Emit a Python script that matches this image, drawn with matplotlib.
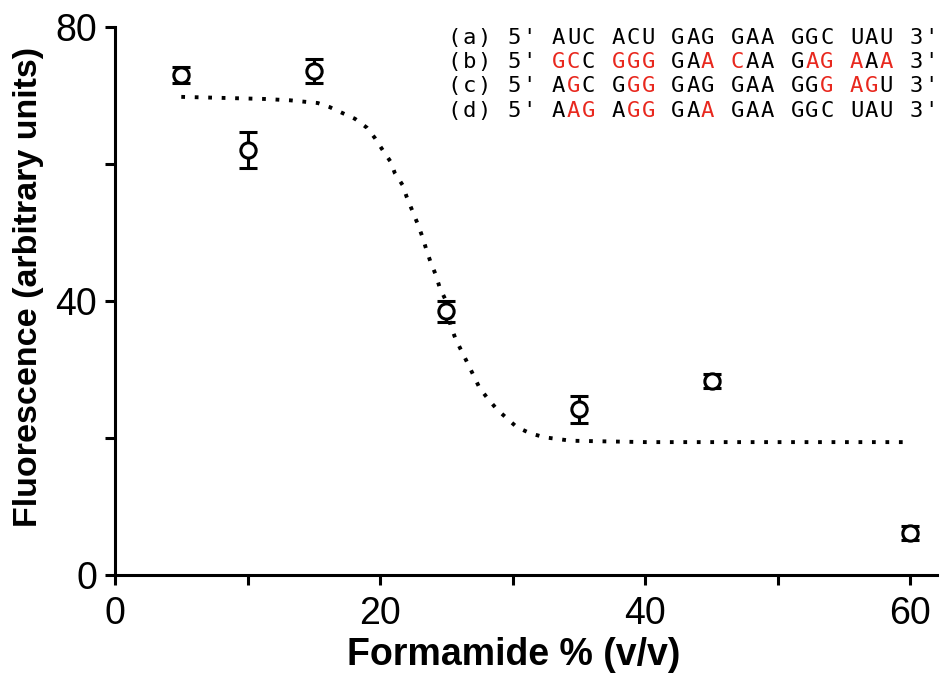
import numpy as np
import matplotlib
matplotlib.use("Agg")
import matplotlib.pyplot as plt
from matplotlib.ticker import MultipleLocator

# measured points
formamide = [5, 10, 15, 25, 35, 45, 60]
fluor = [73.0, 62.0, 73.6, 38.5, 24.2, 28.3, 6.1]
fluor_err = [1.2, 2.6, 1.8, 1.5, 2.0, 1.0, 1.0]

# fitted curve
fit_x = [5.0, 11.2, 13.2, 15.3, 16.2, 17.2, 18.1, 19.0, 19.6, 20.2, 20.8, 21.1,
         21.7, 22.0, 22.4, 22.8, 23.2, 23.5, 23.8, 24.2, 24.5, 24.9, 25.3, 25.7,
         26.6, 27.1, 27.5, 28.1, 28.8, 29.6, 30.3, 31.3, 32.4, 34.4, 40.0, 50.0, 60.0]
fit_y = [69.8, 69.5, 69.3, 68.9, 68.3, 67.4, 66.6, 65.3, 63.8, 62.0, 60.3, 58.7,
         56.9, 55.2, 53.3, 51.4, 49.3, 47.4, 45.7, 43.8, 41.9, 40.3, 36.5, 34.4,
         30.9, 28.9, 27.3, 25.8, 24.2, 22.8, 21.6, 20.7, 20.1, 19.6, 19.4, 19.4, 19.4]

# sequences, with 1 marking a red base
labels = ["(a)", "(b)", "(c)", "(d)"]
codons = [
    ["AUC", "ACU", "GAG", "GAA", "GGC", "UAU"],
    ["GCC", "GGG", "GAA", "CAA", "GAG", "AAA"],
    ["AGC", "GGG", "GAG", "GAA", "GGG", "AGU"],
    ["AAG", "AGG", "GAA", "GAA", "GGC", "UAU"],
]
red_marks = [
    ["000", "000", "000", "000", "000", "000"],
    ["110", "111", "001", "100", "011", "101"],
    ["010", "011", "000", "000", "001", "110"],
    ["011", "011", "001", "000", "000", "000"],
]

RED = "#e8281e"
W, H = 942, 679
SANS = ["Liberation Sans", "DejaVu Sans"]

plt.rcParams["lines.scale_dashes"] = False

fig = plt.figure(figsize=(W / 100, H / 100), dpi=100)
ax = fig.add_axes([115 / W, 1 - 575 / H, (937 - 115) / W, (575 - 27) / H])

ax.errorbar(formamide, fluor, yerr=fluor_err, fmt="o", ms=11, mfc="white",
            mec="black", mew=2.2, ecolor="black", elinewidth=2.2, capsize=6.5,
            capthick=2.2, zorder=3)
ax.plot(fit_x, fit_y, color="black", lw=2.8, linestyle=(0, (2.7, 7.0)), zorder=2)

ax.set_xlim(0, 62)
ax.set_ylim(0, 80)
ax.set_xticks([0, 20, 40, 60])
ax.xaxis.set_minor_locator(MultipleLocator(10))
ax.set_yticks([0, 40, 80])
ax.yaxis.set_minor_locator(MultipleLocator(20))

for s in ["top", "right"]:
    ax.spines[s].set_visible(False)
for s in ["left", "bottom"]:
    ax.spines[s].set_linewidth(2.2)

ax.tick_params(which="both", direction="out", length=7, width=2.2)
ax.tick_params(axis="y", which="major", labelsize=27, pad=6)
ax.tick_params(axis="x", which="major", labelsize=27, pad=8)
for lab in ax.get_xticklabels() + ax.get_yticklabels():
    lab.set_family(SANS)

ax.set_xlabel("Formamide % (v/v)", fontsize=27, fontweight="bold", family=SANS)
ax.set_ylabel("Fluorescence (arbitrary units)", fontsize=24.5, fontweight="bold",
              family=SANS)
ax.xaxis.set_label_coords(0.485, -0.113)
ax.yaxis.set_label_coords(-0.086, 0.525)

# sequence block, one character at a time on a fixed pitch
pitch = 14.9
x0 = 447
row_y = [38, 62, 86, 111]
for r in range(4):
    chars = [(c, "black") for c in labels[r] + " 5' "]
    for k, cod in enumerate(codons[r]):
        for c, m in zip(cod, red_marks[r][k]):
            chars.append((c, RED if m == "1" else "black"))
        chars.append((" ", "black"))
    chars += [(c, "black") for c in "3'"]
    for i, (c, col) in enumerate(chars):
        if c == " ":
            continue
        fig.text((x0 + i * pitch + pitch / 2) / W, 1 - row_y[r] / H, c,
                 color=col, fontsize=16, family="DejaVu Sans Mono",
                 ha="center", va="center")

fig.savefig("out.png", dpi=100)
